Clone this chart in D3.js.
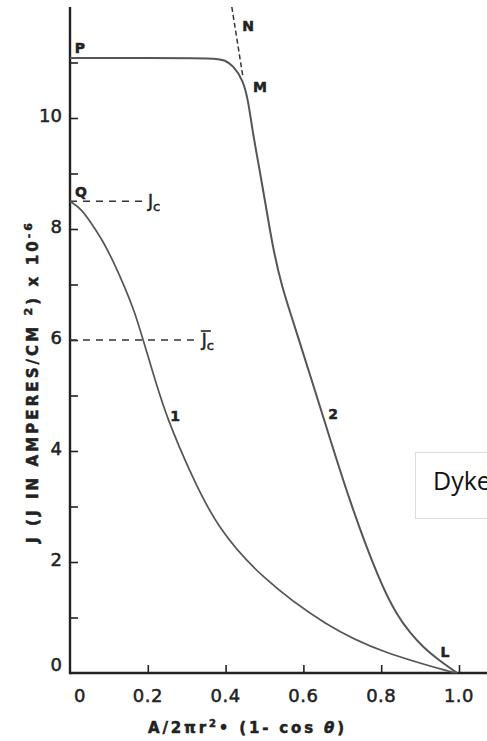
<!DOCTYPE html>
<html>
<head>
<meta charset="utf-8">
<script src="https://cdn.jsdelivr.net/npm/d3@7/dist/d3.min.js"></script>
<style>
  html, body { margin: 0; padding: 0; background: #fff; }
  svg { display: block; }
  .lbl { font-family: "DejaVu Sans", sans-serif; fill: #222; stroke: #222; stroke-width: 0.5px; }
</style>
</head>
<body>
<svg id="chart" width="487" height="741"></svg>
<script>
// Axis ticks and labels
const xTickValues = [0.2, 0.4, 0.6, 0.8, 1.0];
const xTickLabels = ["0", "0.2", "0.4", "0.6", "0.8", "1.0"];
const xLabelValues = [0, 0.2, 0.4, 0.6, 0.8, 1.0];
const yTickValues = [1, 2, 3, 4, 5, 6, 7, 8, 9, 10, 11];
const yLabelValues = [0, 2, 4, 6, 8, 10];

// Curve 1: current density vs. fractional area
const curve1X = [0, 0.03, 0.057, 0.085, 0.111, 0.141, 0.167, 0.188, 0.215, 0.248, 0.314, 0.378, 0.488, 0.661, 0.805, 0.99];
const curve1J = [8.5, 8.36, 8.08, 7.78, 7.42, 6.95, 6.49, 6.0, 5.37, 4.61, 3.53, 2.63, 1.73, 0.83, 0.36, 0];

// Curve 2: flat plateau P then steep fall through M to L
const curve2X = [0, 0.2, 0.378, 0.398, 0.419, 0.445, 0.458, 0.470, 0.486, 0.501, 0.522, 0.545, 0.573, 0.612, 0.650, 0.717, 0.797, 0.840, 0.874, 0.910, 0.943, 0.995];
const curve2J = [11.08, 11.08, 11.08, 11.04, 10.95, 10.68, 10.32, 9.73, 9.12, 8.52, 7.64, 6.95, 6.35, 5.48, 4.64, 3.12, 1.62, 1.05, 0.72, 0.45, 0.26, 0];

// Dashed tangent MN
const tangentX = [0.416, 0.445];
const tangentJ = [12.0, 10.72];

// Critical current densities (dashed reference levels)
const jcLevel = 8.5, jcEnd = 0.19;
const jbarLevel = 6.0, jbarEnd = 0.326;

const svg = d3.select("#chart");
const x = d3.scaleLinear().domain([0, 1]).range([70, 459]);
const y = d3.scaleLinear().domain([0, 12]).range([673, 7]);

const ink = "#222";
const curveInk = "#555";

// Axes
svg.append("g")
  .attr("transform", `translate(0,${y(0)})`)
  .call(d3.axisBottom(x).tickValues(xTickValues).tickSize(-8).tickSizeOuter(0).tickFormat(""))
  .call(g => g.select(".domain").remove())
  .call(g => g.selectAll(".tick line").attr("stroke", ink).attr("stroke-width", 1.6));

svg.append("g")
  .attr("transform", `translate(${x(0)},0)`)
  .call(d3.axisLeft(y).tickValues(yTickValues).tickSize(-8).tickSizeOuter(0).tickFormat(""))
  .call(g => g.select(".domain").remove())
  .call(g => g.selectAll(".tick line").attr("stroke", ink).attr("stroke-width", 1.6));

svg.append("line")
  .attr("x1", x(0)).attr("x2", x(1.075))
  .attr("y1", y(0)).attr("y2", y(0))
  .attr("stroke", ink).attr("stroke-width", 2.4);
svg.append("line")
  .attr("x1", x(0)).attr("x2", x(0))
  .attr("y1", y(0) + 1.2).attr("y2", y(12))
  .attr("stroke", ink).attr("stroke-width", 2.4);

// Tick labels
svg.append("g").selectAll("text")
  .data(xLabelValues)
  .join("text")
  .attr("class", "lbl")
  .attr("x", (d, i) => x(d) + (i === 0 ? 10 : 0))
  .attr("y", 702)
  .attr("text-anchor", "middle")
  .attr("font-size", 18)
  .attr("letter-spacing", 0.5)
  .text((d, i) => xTickLabels[i]);

svg.append("g").selectAll("text")
  .data(yLabelValues)
  .join("text")
  .attr("class", "lbl")
  .attr("x", 62)
  .attr("y", d => y(d) + (d === 0 ? -2 : 4))
  .attr("text-anchor", "end")
  .attr("font-size", 18)
  .text(d => d);

// Axis titles
const yTitle = svg.append("text")
  .attr("class", "lbl")
  .attr("transform", "translate(38,383) rotate(-90)")
  .attr("text-anchor", "middle")
  .attr("font-size", 15)
  .attr("font-weight", "bold")
  .attr("textLength", 320)
  .attr("lengthAdjust", "spacing");
yTitle.append("tspan").text("J (J IN AMPERES/CM ");
yTitle.append("tspan").attr("font-size", 11).attr("dy", -6).text("2");
yTitle.append("tspan").attr("dy", 6).text(") x 10");
yTitle.append("tspan").attr("font-size", 11).attr("dy", -6).text("-6");

const xTitle = svg.append("text")
  .attr("class", "lbl")
  .attr("x", 246).attr("y", 733)
  .attr("text-anchor", "middle")
  .attr("font-size", 15)
  .attr("font-weight", "bold")
  .attr("textLength", 196)
  .attr("lengthAdjust", "spacing");
xTitle.append("tspan").text("A/2\u03C0r");
xTitle.append("tspan").attr("font-size", 10).attr("dy", -6).text("2");
xTitle.append("tspan").attr("dy", 6).text("\u2022 (1- cos ");
xTitle.append("tspan").attr("font-style", "italic").text("\u03B8");
xTitle.append("tspan").text(")");

// Reference levels
svg.append("line")
  .attr("x1", x(0)).attr("x2", x(jcEnd))
  .attr("y1", y(jcLevel)).attr("y2", y(jcLevel))
  .attr("stroke", "#333").attr("stroke-width", 1.4).attr("stroke-dasharray", "7,6");
svg.append("line")
  .attr("x1", x(0)).attr("x2", x(jbarEnd))
  .attr("y1", y(jbarLevel)).attr("y2", y(jbarLevel))
  .attr("stroke", "#333").attr("stroke-width", 1.4).attr("stroke-dasharray", "7,6");

// Curves
const line = d3.line().x(d => x(d[0])).y(d => y(d[1])).curve(d3.curveBasis);
svg.append("path")
  .datum(curve1X.map((v, i) => [v, curve1J[i]]))
  .attr("d", line)
  .attr("fill", "none").attr("stroke", curveInk).attr("stroke-width", 1.7);
svg.append("path")
  .datum(curve2X.map((v, i) => [v, curve2J[i]]))
  .attr("d", line)
  .attr("fill", "none").attr("stroke", curveInk).attr("stroke-width", 2);

svg.append("path")
  .datum(tangentX.map((v, i) => [v, tangentJ[i]]))
  .attr("d", d3.line().x(d => x(d[0])).y(d => y(d[1])))
  .attr("fill", "none").attr("stroke", "#333").attr("stroke-width", 1.5).attr("stroke-dasharray", "5,3");

// Point and curve labels
const pointLabels = [
  { t: "P", px: 80, py: 53 },
  { t: "Q", px: 81, py: 197 },
  { t: "N", px: 248, py: 31 },
  { t: "M", px: 260, py: 92 },
  { t: "L", px: 445, py: 657 },
  { t: "1", px: 175, py: 421 },
  { t: "2", px: 333, py: 419 }
];
svg.append("g").selectAll("text")
  .data(pointLabels)
  .join("text")
  .attr("class", "lbl")
  .attr("x", d => d.px).attr("y", d => d.py)
  .attr("text-anchor", "middle")
  .attr("font-size", 14)
  .attr("font-weight", "bold")
  .text(d => d.t);

// J_c and mean J_c labels
const jc = svg.append("text").attr("class", "lbl")
  .attr("x", x(jcEnd) + 4).attr("y", y(jcLevel) + 6)
  .attr("font-size", 17);
jc.append("tspan").text("J");
jc.append("tspan").attr("font-size", 13).attr("dy", 4).text("c");

const jb = svg.append("text").attr("class", "lbl")
  .attr("x", x(jbarEnd) + 5).attr("y", y(jbarLevel) + 6)
  .attr("font-size", 17);
jb.append("tspan").text("J");
jb.append("tspan").attr("font-size", 13).attr("dy", 4).text("c");
svg.append("line")
  .attr("x1", x(jbarEnd) + 4).attr("x2", x(jbarEnd) + 14)
  .attr("y1", y(jbarLevel) - 9).attr("y2", y(jbarLevel) - 9)
  .attr("stroke", ink).attr("stroke-width", 1.6);

// Annotation box, running off the right edge
svg.append("rect")
  .attr("x", 415.5).attr("y", 452.5).attr("width", 100).attr("height", 66)
  .attr("fill", "#fff").attr("stroke", "#dcdcdc").attr("stroke-width", 1);
svg.append("text")
  .attr("x", 433).attr("y", 490)
  .attr("font-family", "'Open Sans', sans-serif")
  .attr("font-size", 25)
  .attr("fill", "#111")
  .text("Dyke");
</script>
</body>
</html>
